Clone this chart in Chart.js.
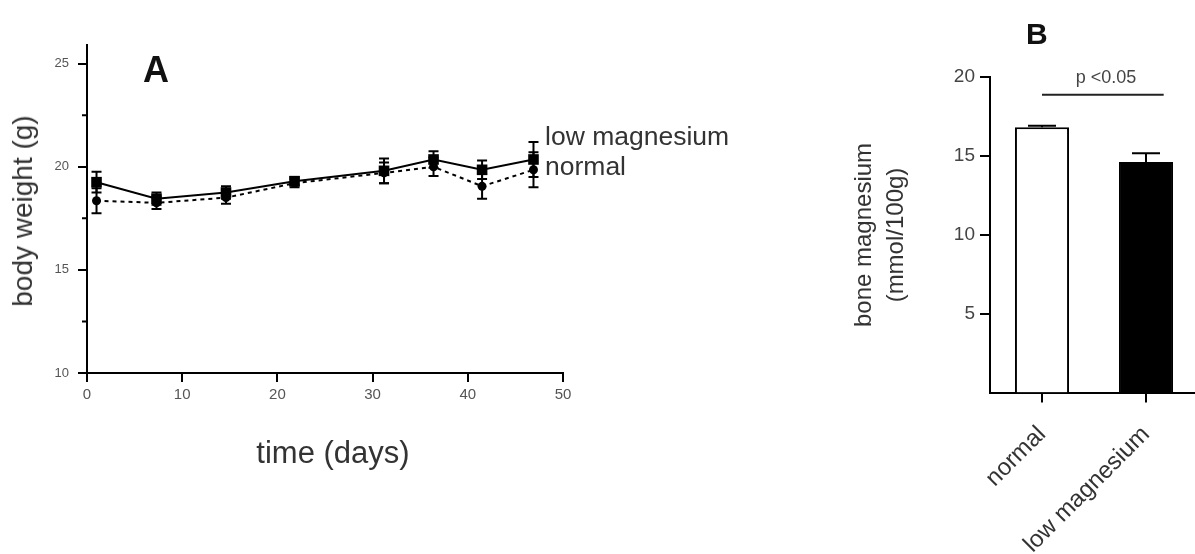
<!DOCTYPE html>
<html><head><meta charset="utf-8">
<script src="https://cdn.jsdelivr.net/npm/chart.js@4.4.0/dist/chart.umd.min.js"></script>
<style>
html,body{margin:0;padding:0;background:#fff;}
body{width:1195px;height:554px;overflow:hidden;position:relative;font-family:"Liberation Sans",Arial,sans-serif;}
#wa{position:absolute;left:0;top:0;width:760px;height:554px;}
#wb{position:absolute;left:850px;top:0;width:350px;height:554px;}
.lbl{position:absolute;white-space:nowrap;color:#333;line-height:1;}
.rot{transform:translate(-50%,-50%) rotate(-90deg);}
</style></head><body>
<div id="wa"><canvas id="ca" width="760" height="554"></canvas></div>
<div id="wb"><canvas id="cb" width="350" height="554"></canvas></div>

<div class="lbl" style="left:143px;top:52px;font-size:36px;font-weight:bold;color:#111;">A</div>
<div class="lbl" style="left:545px;top:123px;font-size:26.5px;">low magnesium</div>
<div class="lbl" style="left:545px;top:153px;font-size:26.5px;">normal</div>
<div class="lbl rot" style="left:23px;top:211px;font-size:28px;">body weight (g)</div>
<div class="lbl" style="left:333px;top:437px;font-size:31px;transform:translateX(-50%);">time (days)</div>

<div class="lbl" style="left:1026px;top:19px;font-size:30px;font-weight:bold;color:#111;">B</div>
<div class="lbl" style="left:1106px;top:68px;font-size:18px;color:#444;transform:translateX(-50%);">p &lt;0.05</div>
<div class="lbl rot" style="left:863px;top:235px;font-size:24px;">bone magnesium</div>
<div class="lbl rot" style="left:895px;top:235px;font-size:24px;">(mmol/100g)</div>

<script>
// ---- Panel A data ----
const days = [1, 7.3, 14.6, 21.8, 31.2, 36.4, 41.5, 46.9];
const lowMg = [19.25, 18.45, 18.75, 19.3, 19.8, 20.35, 19.85, 20.35];
const lowMgErr = [0.5, 0.3, 0.3, 0.2, 0.6, 0.4, 0.45, 0.85];
const normalW = [18.35, 18.25, 18.5, 19.2, 19.7, 20.0, 19.05, 19.85];
const normalErr = [0.6, 0.3, 0.3, 0.2, 0.5, 0.45, 0.6, 0.85];
const xTicksA = [0, 10, 20, 30, 40, 50];
const yTicksA = [10, 15, 20, 25];
const yMinorA = [12.5, 17.5, 22.5];

// ---- Panel B data ----
const groupsB = ['normal', 'low magnesium'];
const boneMg = [16.8, 14.6];
const boneMgErr = [0.1, 0.55];
const yTicksB = [5, 10, 15, 20];
const sigLevel = 18.85;

Chart.defaults.font.family = '"Liberation Sans", Arial, sans-serif';
Chart.defaults.animation = false;

const errorBars = {
  id: 'errorBars',
  afterDatasetsDraw(chart) {
    const ctx = chart.ctx;
    const ys = chart.scales.y;
    chart.data.datasets.forEach((ds, di) => {
      if (!ds.errors) return;
      const meta = chart.getDatasetMeta(di);
      meta.data.forEach((el, i) => {
        const v = (typeof ds.data[i] === 'object') ? ds.data[i].y : ds.data[i];
        const e = ds.errors[i];
        const yTop = ys.getPixelForValue(v + e);
        const yBot = ds.upOnly ? ys.getPixelForValue(v) : ys.getPixelForValue(v - e);
        const half = ds.capHalf || 5;
        ctx.save();
        ctx.strokeStyle = '#000';
        ctx.lineWidth = 2;
        ctx.beginPath();
        ctx.moveTo(el.x, yTop); ctx.lineTo(el.x, yBot);
        ctx.moveTo(el.x - half, yTop); ctx.lineTo(el.x + half, yTop);
        if (!ds.upOnly) { ctx.moveTo(el.x - half, yBot); ctx.lineTo(el.x + half, yBot); }
        ctx.stroke();
        ctx.restore();
      });
    });
  }
};

const minorTicks = {
  id: 'minorTicks',
  afterDraw(chart) {
    const ys = chart.scales.y;
    const ctx = chart.ctx;
    ctx.save();
    ctx.strokeStyle = '#000';
    ctx.lineWidth = 2;
    ctx.beginPath();
    yMinorA.forEach(v => {
      const y = ys.getPixelForValue(v);
      ctx.moveTo(ys.right - 5, y); ctx.lineTo(ys.right, y);
    });
    ctx.stroke();
    ctx.restore();
  }
};

new Chart(document.getElementById('ca'), {
  type: 'line',
  data: {
    datasets: [
      {
        label: 'low magnesium',
        data: days.map((d, i) => ({x: d, y: lowMg[i]})),
        errors: lowMgErr,
        borderColor: '#000', borderWidth: 2,
        pointStyle: 'rect', pointRadius: 7.5,
        pointBackgroundColor: '#000', pointBorderColor: '#000', pointBorderWidth: 0,
        capHalf: 5, order: 0
      },
      {
        label: 'normal',
        data: days.map((d, i) => ({x: d, y: normalW[i]})),
        errors: normalErr,
        borderColor: '#000', borderWidth: 2, borderDash: [4, 4],
        pointStyle: 'circle', pointRadius: 4.5,
        pointBackgroundColor: '#000', pointBorderColor: '#000', pointBorderWidth: 0,
        capHalf: 5, order: 1
      }
    ]
  },
  options: {
    responsive: false,
    devicePixelRatio: 1,
    layout: {padding: {left: 0, top: 45, right: 197, bottom: 0}},
    plugins: {legend: {display: false}, tooltip: {enabled: false}},
    scales: {
      x: {
        type: 'linear', min: 0, max: 50,
        afterBuildTicks: s => { s.ticks = xTicksA.map(v => ({value: v})); },
        afterFit: s => { s.height = 181; },
        ticks: {font: {size: 15}, color: '#555', padding: 4, autoSkip: false, maxRotation: 0},
        grid: {drawOnChartArea: false, drawTicks: true, tickLength: 9, color: '#000', lineWidth: 2},
        border: {display: true, color: '#000', width: 2}
      },
      y: {
        type: 'linear', min: 10, max: 25.9,
        afterBuildTicks: s => { s.ticks = yTicksA.map(v => ({value: v})); },
        afterFit: s => { s.width = 87; },
        ticks: {font: {size: 13}, color: '#555', padding: 9, autoSkip: false},
        grid: {drawOnChartArea: false, drawTicks: true, tickLength: 9, color: '#000', lineWidth: 2},
        border: {display: true, color: '#000', width: 2}
      }
    }
  },
  plugins: [errorBars, minorTicks]
});

const sigBar = {
  id: 'sigBar',
  afterDraw(chart) {
    const xs = chart.scales.x, ys = chart.scales.y;
    const x0 = xs.getPixelForValue(0);
    const x1 = xs.getPixelForValue(1);
    const xEnd = x1 + (x1 - x0) * 0.17;
    const y = ys.getPixelForValue(sigLevel);
    const ctx = chart.ctx;
    ctx.save();
    ctx.strokeStyle = '#222';
    ctx.lineWidth = 2;
    ctx.beginPath();
    ctx.moveTo(x0, y); ctx.lineTo(xEnd, y);
    ctx.stroke();
    ctx.restore();
  }
};

new Chart(document.getElementById('cb'), {
  type: 'bar',
  data: {
    labels: groupsB,
    datasets: [{
      data: boneMg,
      errors: boneMgErr,
      upOnly: true,
      capHalf: 14,
      backgroundColor: ['#fff', '#000'],
      borderColor: '#000',
      borderWidth: 2,
      borderSkipped: 'bottom',
      barPercentage: 0.52,
      categoryPercentage: 1
    }]
  },
  options: {
    responsive: false,
    devicePixelRatio: 1,
    layout: {padding: {left: 0, top: 76.7, right: 2, bottom: 0}},
    plugins: {legend: {display: false}, tooltip: {enabled: false}},
    scales: {
      x: {
        afterFit: s => { s.height = 161.5; },
        ticks: {font: {size: 24}, color: '#333', minRotation: 45, maxRotation: 45, padding: 18, autoSkip: false},
        grid: {offset: false, drawOnChartArea: false, drawTicks: true, tickLength: 10, color: '#000', lineWidth: 2},
        border: {display: true, color: '#000', width: 2}
      },
      y: {
        min: 0, max: 20,
        afterBuildTicks: s => { s.ticks = yTicksB.map(v => ({value: v})); },
        afterFit: s => { s.width = 140; },
        ticks: {font: {size: 19}, color: '#444', padding: 5, autoSkip: false},
        grid: {drawOnChartArea: false, drawTicks: true, tickLength: 10, color: '#000', lineWidth: 2},
        border: {display: true, color: '#000', width: 2}
      }
    }
  },
  plugins: [errorBars, sigBar]
});
</script>
</body></html>
